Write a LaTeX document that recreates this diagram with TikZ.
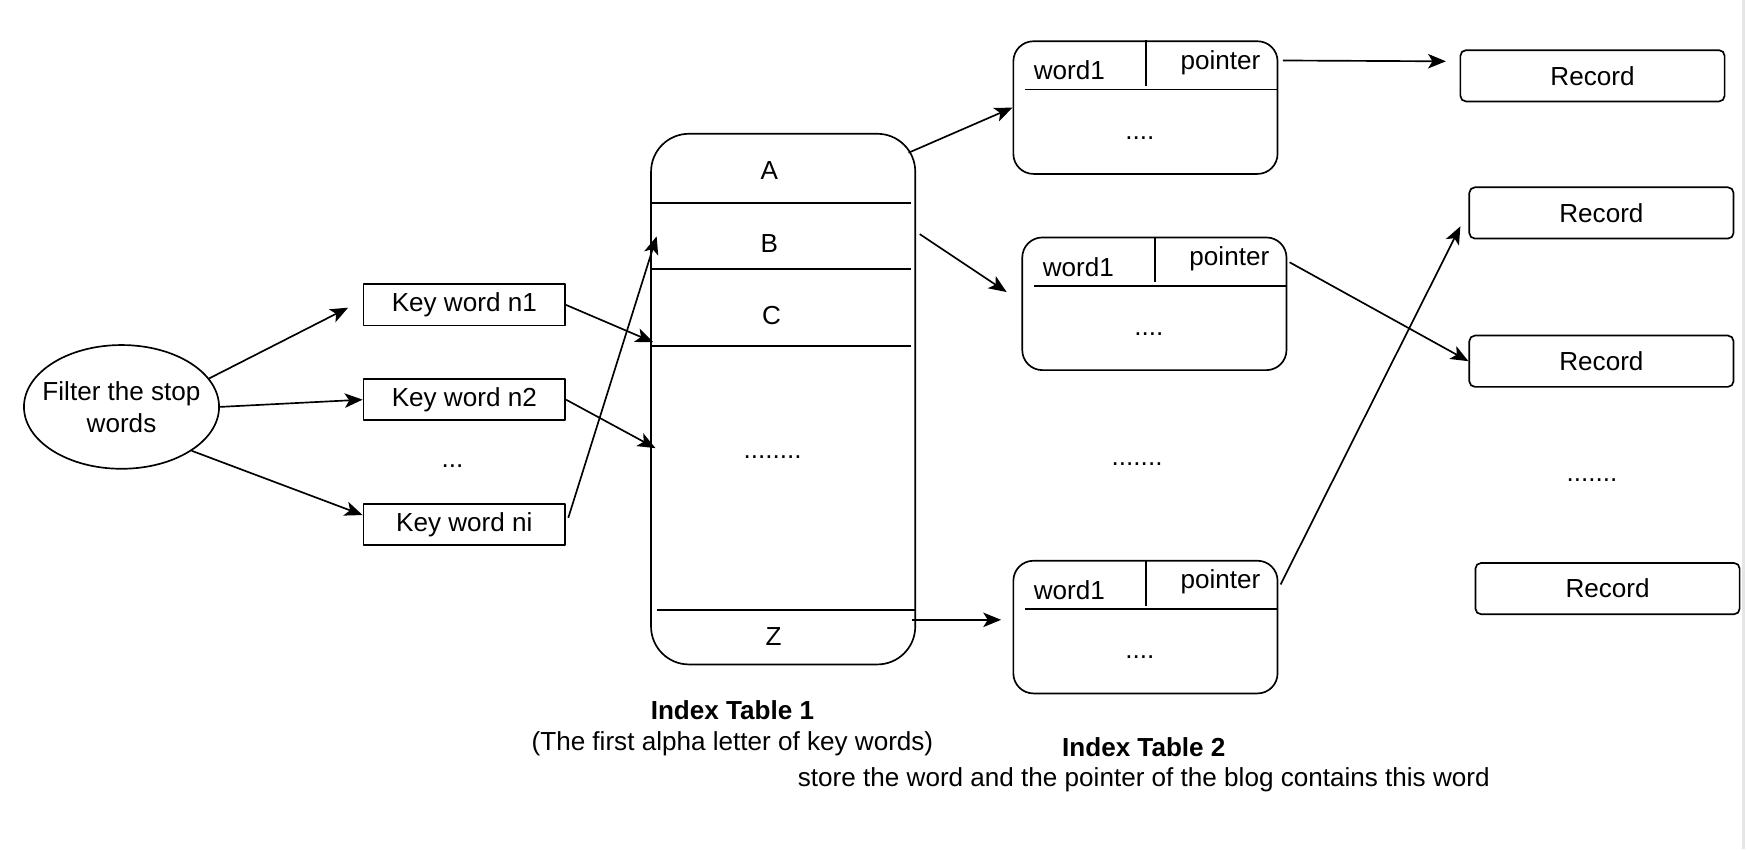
\documentclass[tikz,border=0pt]{standalone}
\usepackage{fontspec}
\setmainfont{Liberation Sans}
\usetikzlibrary{shapes.geometric,arrows.meta,calc}
\tikzset{
  kbox/.style={draw,minimum width=90.5pt,minimum height=18.5pt,inner sep=0pt},
  rec/.style={draw,rounded corners=2.5pt,minimum width=118.5pt,minimum height=23pt,inner sep=0pt},
  tbox/.style={draw,rounded corners=9pt,minimum width=118.5pt,minimum height=59.5pt,inner sep=0pt}
}
\begin{document}
\begin{tikzpicture}[line join=round,>={Stealth[length=8pt,width=6.5pt,inset=2pt]},font=\fontsize{11.7}{14.5}\selectfont,x=0.5pt,y=-0.5pt,line width=0.75pt]
	\useasboundingbox (0,0) rectangle (1568,762);
	\draw[gray!20,line width=1.5pt] (1564,0)--(1564,762); % right edge
	% filter and key words
	\node[draw,ellipse,minimum width=87.5pt,minimum height=55.5pt,inner sep=0pt,align=center] (filter) at (109,365) {\makebox[40pt]{Filter the stop}\\\makebox[40pt]{words}};
	\node[kbox] (kn1) at (416.5,273.5) {Key word n1};
	\node[kbox] (kn2) at (416.5,358.5) {Key word n2};
	\node (kdots) at (406,418) {...};
	\node[kbox] (kni) at (416.5,470.5) {Key word ni};
	% index table 1
	\node[draw,rounded corners=17pt,minimum width=118.5pt,minimum height=238pt] (tab1) at (702.5,358) {};
	\draw (584,182)--(817,182);
	\draw (584,241)--(817,241);
	\draw (584,310.5)--(817,310.5);
	\draw (589,547)--(821,547);
	\node (la) at (690,153) {A};
	\node (lb) at (690,218) {B};
	\node (lc) at (692,283) {C};
	\node (ldots) at (693,410) {........};
	\node (lz) at (694,571) {Z};
	\node (cap1) at (657,637) {\bfseries Index Table 1};
	\node (cap1b) at (657,667) {(The first alpha letter of key words)};
	% index table 2
	\node[tbox] (tab2a) at (1027.5,96.5) {};
	\node[tbox] (tab2b) at (1035.5,272.5) {};
	\node[tbox] (tab2c) at (1027.5,562.5) {};
	\foreach \n in {tab2a,tab2b,tab2c}{
		\draw ($(\n.north west)+(11,44)$)--($(\n.north east)+(0,44)$);
		\draw ($(\n.north)+(0.5,0)$)--++(0,41);
		\node (\n-w) at ($(\n.north west)+(51,27)$) {word1};
		\node (\n-p) at ($(\n.north east)+(-52,20)$) {pointer};
		\node (\n-d) at ($(\n.center)+(-5,27)$) {....};
	}
	\node (tdots) at (1020,416) {.......};
	\node (cap2) at (1026,670) {\bfseries Index Table 2};
	\node (cap2b) at (1026,699) {store the word and the pointer of the blog contains this word};
	% records
	\node[rec] (r1) at (1428.5,68) {Record};
	\node[rec] (r2) at (1436.5,191) {Record};
	\node[rec] (r3) at (1436.5,324) {Record};
	\node (rdots) at (1428,431) {.......};
	\node[rec] (r4) at (1442,528) {Record};
	% free arrow ends
	\coordinate (e1) at ($(kn1.west)+(-13,2.5)$);
	\coordinate (e3) at ($(kni.west)+(0,-8.5)$);
	\coordinate (s3) at ($(kni.east)+(2,-6)$);
	\coordinate (t1) at (586,307);
	\coordinate (t2) at (588,402);
	\coordinate (t3) at (589,212);
	\coordinate (s4) at (815,137);
	\coordinate (s5) at (825,210);
	\coordinate (e5) at (903,262);
	\coordinate (s6) at (818,556);
	\coordinate (e6) at (898,556);
	\coordinate (s7) at ($(tab2a.north east)+(4,18)$);
	\coordinate (e7) at (1297,55);
	\coordinate (s8) at ($(tab2b.north east)+(2,23)$);
	\coordinate (s9) at ($(tab2c.north east)+(2,22)$);
	\coordinate (e9) at (1310,203);
	% connectors
	\draw[->] (filter.18)--(e1);
	\draw[->] (filter.east)--(kn2.west);
	\draw[->] (filter.-32)--(e3);
	\draw[->] (kn1.east)--(t1);
	\draw[->] (kn2.east)--(t2);
	\draw[->] (s3)--(t3);
	\draw[->] (s4)--(tab2a.west);
	\draw[->] (s5)--(e5);
	\draw[->] (s6)--(e6);
	\draw[->] (s7)--(e7);
	\draw[->] (s8)--(r3.west);
	\draw[->] (s9)--(e9);
\end{tikzpicture}
\end{document}
